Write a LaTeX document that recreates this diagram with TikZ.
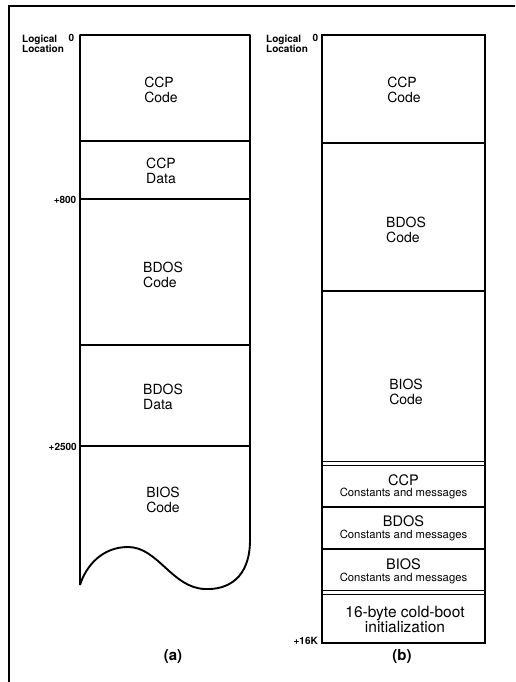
\documentclass[tikz,border=0pt]{standalone}
\usepackage{fontspec}
\setmainfont{TeX Gyre Heros}
\begin{document}
\begin{tikzpicture}[x=1pt,y=-1pt,
  mem/.style={line width=1.9pt},
  dbl/.style={line width=1.5pt},
  frameline/.style={line width=2pt},
  big/.style={font=\fontsize{14}{14.5}\selectfont, align=left, inner sep=0pt},
  bigc/.style={font=\fontsize{14.5}{15}\selectfont, align=center, inner sep=0pt},
  small/.style={font=\fontsize{11.3}{12}\selectfont, inner sep=0pt},
  lab/.style={font=\bfseries\fontsize{10}{10.5}\selectfont, inner sep=0pt, align=left},
  captext/.style={font=\bfseries\fontsize{15}{15}\selectfont, inner sep=0pt}]
\useasboundingbox (0,0) rectangle (515,682);
% outer frame
\draw[frameline] (9,682) -- (9,6.5) -- (515,6.5);

% ---------- (a) ----------
\draw[mem, line join=round] (80,585) -- (80,35) -- (250,35) -- (250,540)
  .. controls (250,578) and (228,590) .. (205,589)
  .. controls (172,588) and (158,547) .. (128,547)
  .. controls (102,547) and (86,566) .. (80,585);
\draw[mem] (80,141) -- (250,141);
\draw[mem] (80,199) -- (250,199);
\draw[mem] (80,345) -- (250,345);
\draw[mem] (80,446) -- (250,446);

\node[big] (a1) at (161,90) {CCP\\Code};
\node[big] (a2) at (161,171) {CCP\\Data};
\node[big] (a3) at (163,275) {BDOS\\Code};
\node[big] (a4) at (163,397) {BDOS\\Data};
\node[big] (a5) at (163,500) {BIOS\\Code};

\node[lab, anchor=north west] (la) at (22,34.5) {Logical\\Location};
\node[lab, anchor=north east] (l0) at (74.5,34.5) {0};
\node[lab, anchor=east] (l800) at (76.5,200) {+800};
\node[lab, anchor=east] (l2500) at (77,447) {+2500};
\node[captext] (capa) at (173,657) {(a)};

% ---------- (b) ----------
\draw[mem] (322,35) rectangle (485,643);
\draw[mem] (322,143) -- (485,143);
\draw[mem] (322,291) -- (485,291);
\draw[dbl] (322,461.5) -- (485,461.5);
\draw[dbl] (322,465.5) -- (485,465.5);
\draw[mem] (322,507) -- (485,507);
\draw[mem] (322,549) -- (485,549);
\draw[dbl] (322,590.5) -- (485,590.5);
\draw[dbl] (322,594.5) -- (485,594.5);

\node[big] (b1) at (404,90) {CCP\\Code};
\node[big] (b2) at (406,230) {BDOS\\Code};
\node[big] (b3) at (406,392) {BIOS\\Code};

\node[bigc, anchor=base] (b4) at (403.5,485) {CCP};
\node[small, anchor=base] (b4s) at (403.5,496.5) {Constants and messages};
\node[bigc, anchor=base] (b5) at (403.5,526) {BDOS};
\node[small, anchor=base] (b5s) at (403.5,538) {Constants and messages};
\node[bigc, anchor=base] (b6) at (403.5,569.5) {BIOS};
\node[small, anchor=base] (b6s) at (403.5,581) {Constants and messages};
\node[bigc, font=\fontsize{15.5}{16}\selectfont, anchor=base] (b7) at (405,617) {16-byte cold-boot};
\node[bigc, font=\fontsize{15.5}{16}\selectfont, anchor=base] (b7b) at (405,632) {initialization};

\node[lab, anchor=north west] (lb) at (266,34.5) {Logical\\Location};
\node[lab, anchor=north east] (lb0) at (318.5,34.5) {0};
\node[lab, anchor=east] (l16k) at (318,641) {+16K};
\node[captext] (capb) at (402,657) {(b)};
\end{tikzpicture}
\end{document}
